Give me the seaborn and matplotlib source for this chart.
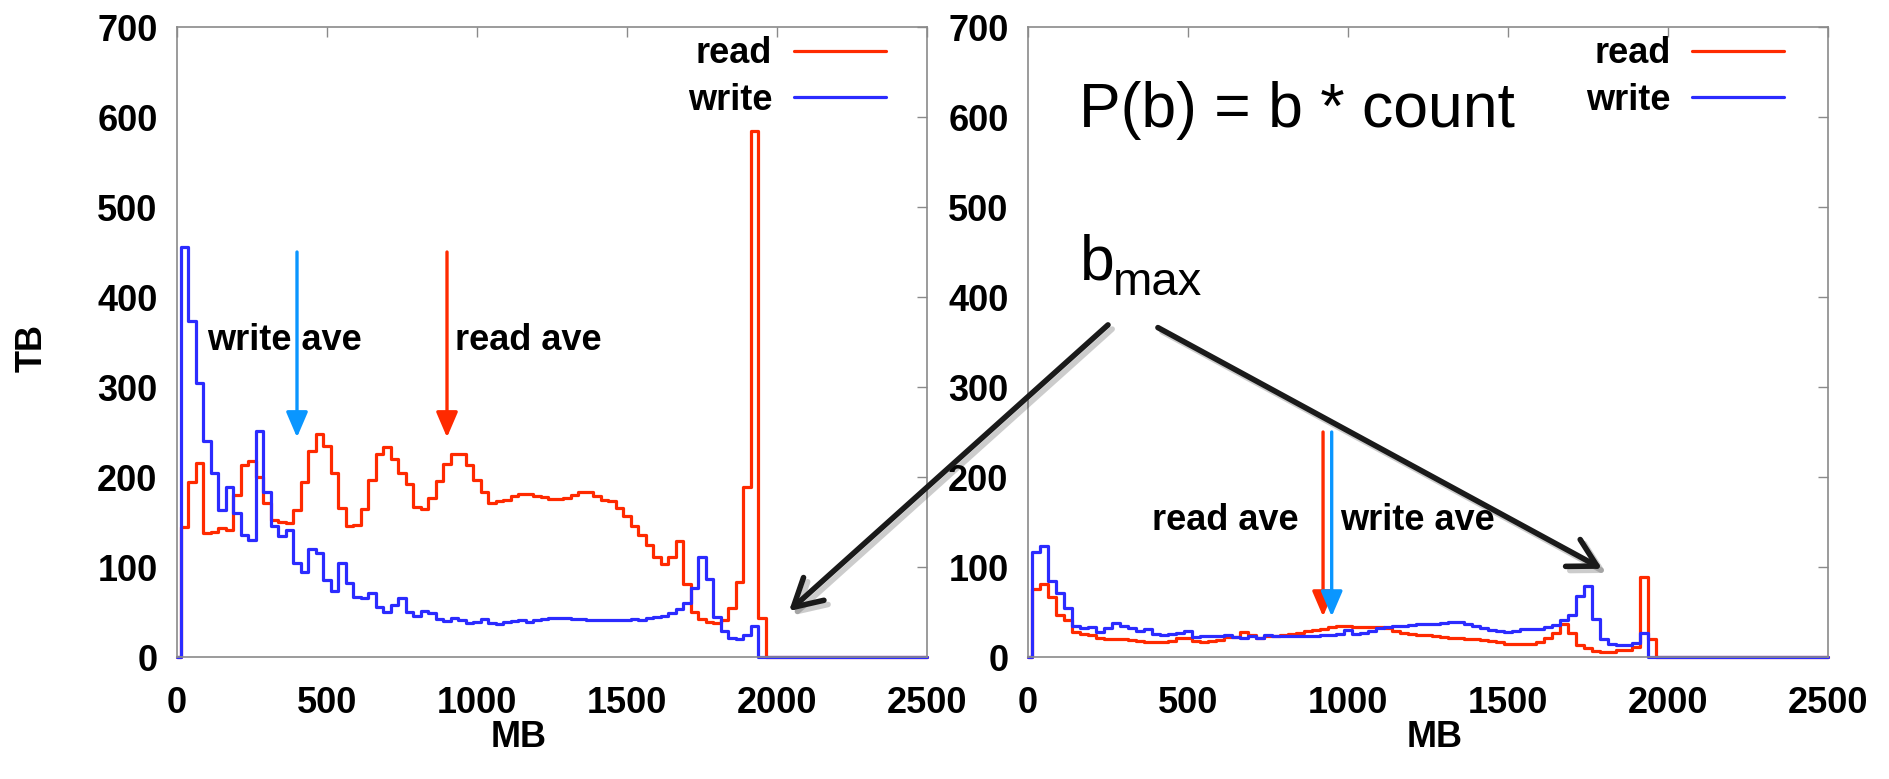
import numpy as np
import pandas as pd
import matplotlib
matplotlib.use("Agg")
import matplotlib.pyplot as plt
import seaborn as sns
from matplotlib.lines import Line2D
from matplotlib.patches import ConnectionPatch
import matplotlib.patheffects as pe

# ---------------- data ----------------
bin_mb = list(range(0, 2525, 25))  # histogram bin centres (MB)

left_read = [0, 144, 195, 216, 138, 139, 143, 141, 180, 213,
             218, 200, 171, 152, 150, 149, 163, 194, 229, 248,
             234, 204, 166, 146, 147, 164, 197, 226, 233, 220,
             204, 192, 167, 164, 177, 196, 215, 226, 226, 213,
             197, 183, 171, 173, 175, 179, 181, 181, 179, 178,
             176, 176, 177, 180, 183, 183, 179, 175, 173, 166,
             157, 146, 136, 124, 111, 103, 111, 129, 81, 50,
             42, 39, 38, 41, 55, 83, 189, 585, 43, 0,
             0, 0, 0, 0, 0, 0, 0, 0, 0, 0,
             0, 0, 0, 0, 0, 0, 0, 0, 0, 0, 0]
left_write = [0, 456, 373, 304, 240, 204, 163, 189, 160, 136,
              130, 251, 183, 146, 134, 141, 105, 95, 120, 116,
              86, 73, 105, 82, 67, 66, 71, 56, 50, 58,
              66, 50, 46, 51, 49, 42, 40, 43, 41, 38,
              39, 42, 38, 37, 39, 40, 41, 39, 41, 42,
              43, 43, 43, 42, 42, 41, 41, 41, 41, 41,
              41, 42, 41, 43, 44, 46, 49, 53, 60, 77,
              111, 87, 45, 29, 21, 20, 25, 35, 0, 0,
              0, 0, 0, 0, 0, 0, 0, 0, 0, 0,
              0, 0, 0, 0, 0, 0, 0, 0, 0, 0, 0]
right_read = [0, 76, 81, 67, 47, 41, 28, 26, 24, 21,
              20, 20, 20, 19, 18, 17, 17, 17, 18, 21,
              21, 18, 17, 18, 19, 22, 22, 28, 24, 21,
              23, 23, 24, 26, 27, 29, 30, 31, 33, 34,
              34, 33, 33, 33, 33, 32, 29, 27, 26, 25,
              24, 23, 22, 21, 21, 20, 20, 19, 18, 17,
              15, 14, 14, 15, 17, 21, 27, 37, 27, 13,
              10, 7, 6, 6, 8, 8, 11, 89, 20, 0,
              0, 0, 0, 0, 0, 0, 0, 0, 0, 0,
              0, 0, 0, 0, 0, 0, 0, 0, 0, 0, 0]
right_write = [0, 117, 123, 85, 71, 54, 34, 32, 33, 28,
               32, 38, 34, 32, 29, 31, 26, 24, 26, 27,
               29, 22, 23, 23, 23, 24, 22, 21, 23, 21,
               24, 23, 23, 23, 23, 23, 23, 24, 24, 26,
               30, 26, 27, 29, 32, 33, 34, 34, 36, 37,
               37, 37, 38, 39, 39, 37, 34, 32, 30, 29,
               28, 29, 31, 31, 31, 33, 36, 41, 47, 68,
               79, 42, 20, 15, 13, 13, 16, 27, 0, 0,
               0, 0, 0, 0, 0, 0, 0, 0, 0, 0,
               0, 0, 0, 0, 0, 0, 0, 0, 0, 0, 0]

series_names = ["read", "write"]
x_ticks = [0, 500, 1000, 1500, 2000, 2500]
y_ticks = [0, 100, 200, 300, 400, 500, 600, 700]

# average markers (MB) and annotation texts
left_avg = {"write ave": 400, "read ave": 900}
right_avg = {"read ave": 922, "write ave": 949}

# ---------------- style ----------------
RED = "#ff2a00"
BLUE = "#2b2bff"
LBLUE = "#0a96ff"
GRAY = "#8a8a8a"
FS = 26

sns.set_theme(style="white")
plt.rcParams["font.family"] = ["Liberation Sans", "DejaVu Sans"]
plt.rcParams["font.weight"] = "bold"
plt.rcParams["text.color"] = "black"
plt.rcParams["axes.labelcolor"] = "black"
plt.rcParams["xtick.color"] = "black"
plt.rcParams["ytick.color"] = "black"

fig = plt.figure(figsize=(18.9, 7.79), dpi=100)
axL = fig.add_axes([0.09365, 0.15661, 0.39683, 0.80873])
axR = fig.add_axes([0.54392, 0.15661, 0.42328, 0.80873])


def draw_panel(ax, rd, wr):
    n = len(bin_mb)
    df = pd.DataFrame({
        "MB": bin_mb + bin_mb,
        "TB": rd + wr,
        "kind": [series_names[0]] * n + [series_names[1]] * n,
    })
    sns.lineplot(data=df, x="MB", y="TB", hue="kind",
                 palette={"read": RED, "write": BLUE},
                 drawstyle="steps-mid", linewidth=2.3, errorbar=None,
                 legend=False, ax=ax, clip_on=False)
    ax.set_xlim(0, 2500)
    ax.set_ylim(0, 700)
    ax.set_xticks(x_ticks)
    ax.set_yticks(y_ticks)
    ax.tick_params(axis="both", direction="in", length=7, width=1.0,
                   color=GRAY, top=True, right=True, labelsize=FS,
                   labelcolor="black")
    ax.tick_params(axis="y", pad=14)
    ax.tick_params(axis="x", pad=21)
    for s in ax.spines.values():
        s.set_color(GRAY)
        s.set_linewidth(1.2)
    ax.grid(False)
    handles = [Line2D([], [], color=RED, lw=2.3), Line2D([], [], color=BLUE, lw=2.3)]
    ax.legend(handles, series_names, loc="upper right",
              bbox_to_anchor=(0.9453, 0.985), frameon=False,
              markerfirst=False, fontsize=FS, handlelength=2.55,
              handletextpad=0.6, labelspacing=0.32, borderpad=0,
              borderaxespad=0)


draw_panel(axL, left_read, left_write)
draw_panel(axR, right_read, right_write)

axL.set_xlabel("MB", fontsize=FS, fontweight="bold")
axL.set_ylabel("TB", fontsize=FS, fontweight="bold")
axL.xaxis.set_label_coords(0.455, -0.10)
axL.yaxis.set_label_coords(-0.17, 0.49)
axR.set_xlabel("MB", fontsize=FS, fontweight="bold")
axR.set_ylabel("")
axR.xaxis.set_label_coords(0.508, -0.10)

# ---------------- average arrows ----------------
arrow_small = dict(arrowstyle="-|>,head_length=0.7,head_width=0.3",
                   lw=2.4, shrinkA=0, shrinkB=0, mutation_scale=22)
axL.annotate("", xy=(left_avg["write ave"], 244), xytext=(left_avg["write ave"], 450),
             arrowprops=dict(color=LBLUE, **arrow_small))
axL.annotate("", xy=(left_avg["read ave"], 244), xytext=(left_avg["read ave"], 450),
             arrowprops=dict(color=RED, **arrow_small))
axL.text(100, 352, "write ave", fontsize=FS, fontweight="bold", va="center", ha="left")
axL.text(927, 352, "read ave", fontsize=FS, fontweight="bold", va="center", ha="left")

axR.annotate("", xy=(right_avg["read ave"], 45), xytext=(right_avg["read ave"], 250),
             arrowprops=dict(color=RED, **arrow_small))
axR.annotate("", xy=(right_avg["write ave"], 45), xytext=(right_avg["write ave"], 250),
             arrowprops=dict(color=LBLUE, **arrow_small))
axR.text(387, 152, "read ave", fontsize=FS, fontweight="bold", va="center", ha="left")
axR.text(975, 152, "write ave", fontsize=FS, fontweight="bold", va="center", ha="left")

# ---------------- formula / b_max ----------------
axR.text(160, 589, "P(b) = b * count", fontsize=45, fontweight="normal",
         va="baseline", ha="left")
axR.text(162, 420, "b", fontsize=45, fontweight="normal", va="baseline", ha="left")
axR.text(266, 402, "max", fontsize=34, fontweight="normal", va="baseline", ha="left")

shadow = [pe.SimpleLineShadow(offset=(3, -3), shadow_color="k", alpha=0.22),
          pe.Normal()]
big_style = "->,head_length=0.9,head_width=0.5"
con = ConnectionPatch(xyA=(250, 369), coordsA=axR.transData,
                      xyB=(2040, 51), coordsB=axL.transData,
                      arrowstyle=big_style, lw=4, color="k",
                      mutation_scale=22, shrinkA=0, shrinkB=0,
                      path_effects=shadow, zorder=5)
fig.add_artist(con)
axR.annotate("", xy=(1794, 98), xytext=(406, 366),
             arrowprops=dict(arrowstyle=big_style, lw=4, color="k",
                             mutation_scale=22, shrinkA=0, shrinkB=0,
                             path_effects=shadow))

fig.savefig("out.png", dpi=100)
